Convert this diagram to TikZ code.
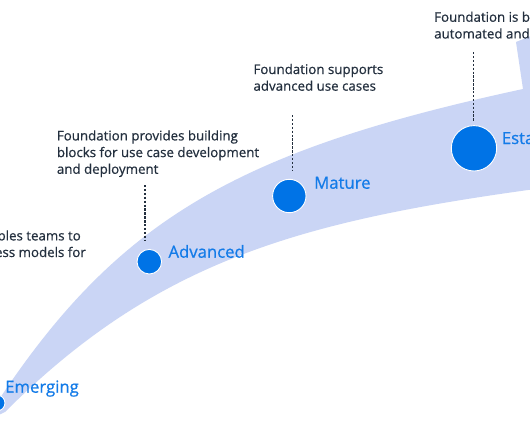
\documentclass[tikz,border=0pt]{standalone}
\usepackage{fontspec}
\setmainfont{Open Sans}
\newfontfamily\notefont{Open Sans}[FakeBold=0.6]
\newfontfamily\lblfont{Open Sans}[FakeBold=0.8]
\definecolor{bandc}{HTML}{CAD5F5}
\definecolor{dotc}{HTML}{0073E6}
\definecolor{lblc}{HTML}{137BE8}
\definecolor{inkc}{HTML}{232F3E}
\begin{document}
\begin{tikzpicture}[x=1pt,y=-1pt,
  stagedot/.style={circle,fill=dotc,draw=white,line width=0.9pt,inner sep=0pt},
  stagelbl/.style={anchor=base west,inner sep=0pt,text=lblc,font=\lblfont\fontsize{16.7}{20}\selectfont},
  note/.style={anchor=base west,inner sep=0pt,text=inkc,align=left,font=\notefont\fontsize{13.3}{16.7}\selectfont},
  notee/.style={anchor=base east,inner sep=0pt,text=inkc,font=\notefont\fontsize{13.3}{16.7}\selectfont},
  dashline/.style={draw=inkc,line width=1.5pt,dash pattern=on 2.4pt off 1.5pt}]
\useasboundingbox (0,0) rectangle (530,442);
\clip (0,0) rectangle (530,442);
\fill[white] (0,0) rectangle (530,442);
% band arrow
\fill[bandc] (-12,420) -- (0,398) .. controls (120,218) and (240,150) .. (523,89)
  -- (516,42) -- (570,20) -- (570,188) -- (528,190)
  .. controls (298,222) and (155,262) .. (5,412) -- cycle;
% dashed connectors
\coordinate (a1) at (145,185); \coordinate (a2) at (145,240);
\coordinate (m1) at (292.5,115); \coordinate (m2) at (292.5,170);
\coordinate (e1) at (473.3,52); \coordinate (e2) at (473.3,121);
\draw[dashline] (a1) -- (a2);
\draw[dashline] (m1) -- (m2);
\draw[dashline] (e1) -- (e2);
% stage dots
\node[stagedot,minimum size=16pt] (emd) at (-3,403) {};
\node[stagedot,minimum size=24.6pt] (add) at (149.3,261.7) {};
\node[stagedot,minimum size=33.4pt] (mad) at (289.3,196) {};
\node[stagedot,minimum size=45.4pt] (esd) at (474,148.3) {};
% stage labels
\node[stagelbl] (eml) at (5,392.7) {Emerging};
\node[stagelbl] (adl) at (168.3,257.7) {Advanced};
\node[stagelbl] (mal) at (314,188.7) {Mature};
\node[stagelbl] (esl) at (501.7,144) {Esta};
% notes (base anchor = last line)
\node[note] (n4) at (434,38.45) {Foundation is b\\automated and};
\node[note] (n3) at (253.3,90.7) {Foundation supports\\advanced use cases};
\node[note] (n2) at (56.7,173.8) {Foundation provides building\\blocks for use case development\\and deployment};
\node[notee] (n1a) at (81,240.4) {bles teams to};
\node[notee] (n1b) at (86,257) {ess models for};
\end{tikzpicture}
\end{document}
